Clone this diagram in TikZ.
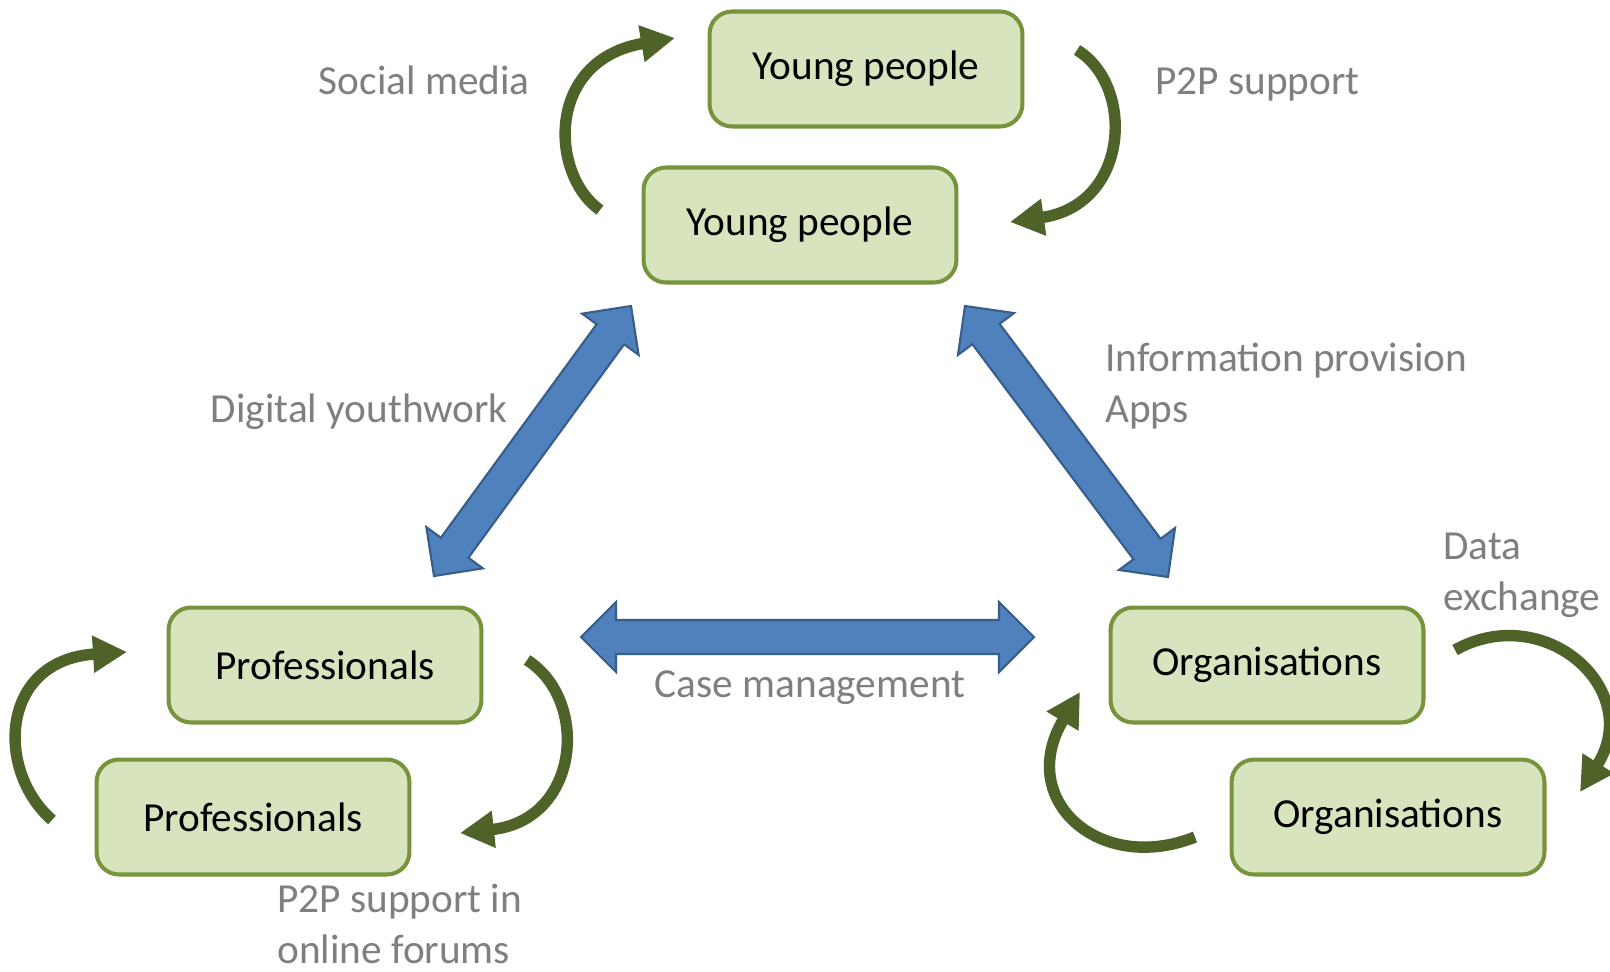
\documentclass[tikz,border=0pt]{standalone}
\usepackage{fontspec}
\setmainfont{Carlito}
\usetikzlibrary{arrows.meta,calc}

\definecolor{boxfill}{HTML}{D7E4BD}
\definecolor{boxline}{HTML}{77933C}
\definecolor{loopgreen}{HTML}{4F6228}
\definecolor{blockblue}{HTML}{4F81BD}
\definecolor{blockedge}{HTML}{385D8A}
\definecolor{labelgray}{HTML}{7F7F7F}

\tikzset{
  group/.style={draw=boxline, fill=boxfill, line width=2.3pt, rounded corners=0.45cm,
    minimum width=6.26cm, minimum height=2.3cm, font=\fontsize{23.5pt}{28.5pt}\selectfont},
  lbl/.style={text=labelgray, inner sep=0pt, align=left, font=\fontsize{23.5pt}{28.5pt}\selectfont},
  loop/.style={draw=loopgreen, line width=6.5pt, -{Triangle[length=0.68cm, width=0.7cm]}},
  block/.style={fill=blockblue, draw=blockedge, line width=1.2pt, line join=miter},
}

% double block arrow from tip #1 to tip #2
\newcommand{\blockarrow}[2]{%
  \draw[block] (#1)
    -- ($(#1)!0.7cm!(#2)!0.7cm!90:(#2)$)
    -- ($(#1)!0.7cm!(#2)!0.34cm!90:(#2)$)
    -- ($(#2)!0.7cm!(#1)!0.34cm!-90:(#1)$)
    -- ($(#2)!0.7cm!(#1)!0.7cm!-90:(#1)$)
    -- (#2)
    -- ($(#2)!0.7cm!(#1)!0.7cm!90:(#1)$)
    -- ($(#2)!0.7cm!(#1)!0.34cm!90:(#1)$)
    -- ($(#1)!0.7cm!(#2)!0.34cm!-90:(#2)$)
    -- ($(#1)!0.7cm!(#2)!0.7cm!-90:(#2)$)
    -- cycle;}

\begin{document}
\begin{tikzpicture}[x=0.02cm, y=-0.02cm]
\path[use as bounding box, fill=white] (0,0) rectangle (1610,971);

% boxes
\node[group] (yp1) at (866,69) {Young people};
\node[group] (yp2) at (800,225) {Young people};
\node[group] (pro1) at (325,665) {Professionals};
\node[group] (pro2) at (253,817) {Professionals};
\node[group] (org1) at (1267,665) {Organisations};
\node[group] (org2) at (1388,817) {Organisations};

% labels (base = last line)
\node[lbl, anchor=base east] (smlbl) at (530,94) {Social media};
\node[lbl, anchor=base west] (p2plbl) at (1155,94) {P2P support};
\node[lbl, anchor=base east] (dywlbl) at (508,422) {Digital youthwork};
\node[lbl, anchor=base west] (inflbl) at (1105,422) {Information provision\\Apps};
\node[lbl, anchor=base west] (datalbl) at (1443,610) {Data\\exchange};
\node[lbl, anchor=base] (caselbl) at (810,697) {Case management};
\node[lbl, anchor=base west] (forumlbl) at (277,963) {P2P support in\\online forums};

% block arrows
\coordinate (dywA) at (631,306);
\coordinate (dywB) at (434,576);
\coordinate (infA) at (965,306);
\coordinate (infB) at (1168,577);
\coordinate (caseA) at (581,637);
\coordinate (caseB) at (1034,637);
\blockarrow{dywA}{dywB}
\blockarrow{infA}{infB}
\blockarrow{caseA}{caseB}

% loops
\coordinate (smA) at (600,210);
\coordinate (smB) at (675,38);
\coordinate (ypA) at (1077,50);
\coordinate (ypB) at (1010,222);
\coordinate (plA) at (52,820);
\coordinate (plB) at (127,652);
\coordinate (prA) at (527,660);
\coordinate (prB) at (460,833);
\coordinate (orA) at (1455,650);
\coordinate (orB) at (1580,792);
\coordinate (olA) at (1195,837);
\coordinate (olB) at (1080,692);

\draw[loop] (smA) .. controls (550,175) and (545,60) .. (smB);
\draw[loop] (ypA) .. controls (1135,85) and (1130,205) .. (ypB);
\draw[loop] (plA) .. controls (-5,770) and (0,660) .. (plB);
\draw[loop] (prA) .. controls (590,700) and (580,820) .. (prB);
\draw[loop] (orA) .. controls (1545,600) and (1645,690) .. (orB);
\draw[loop] (olA) .. controls (1100,875) and (1015,800) .. (olB);

\end{tikzpicture}
\end{document}
